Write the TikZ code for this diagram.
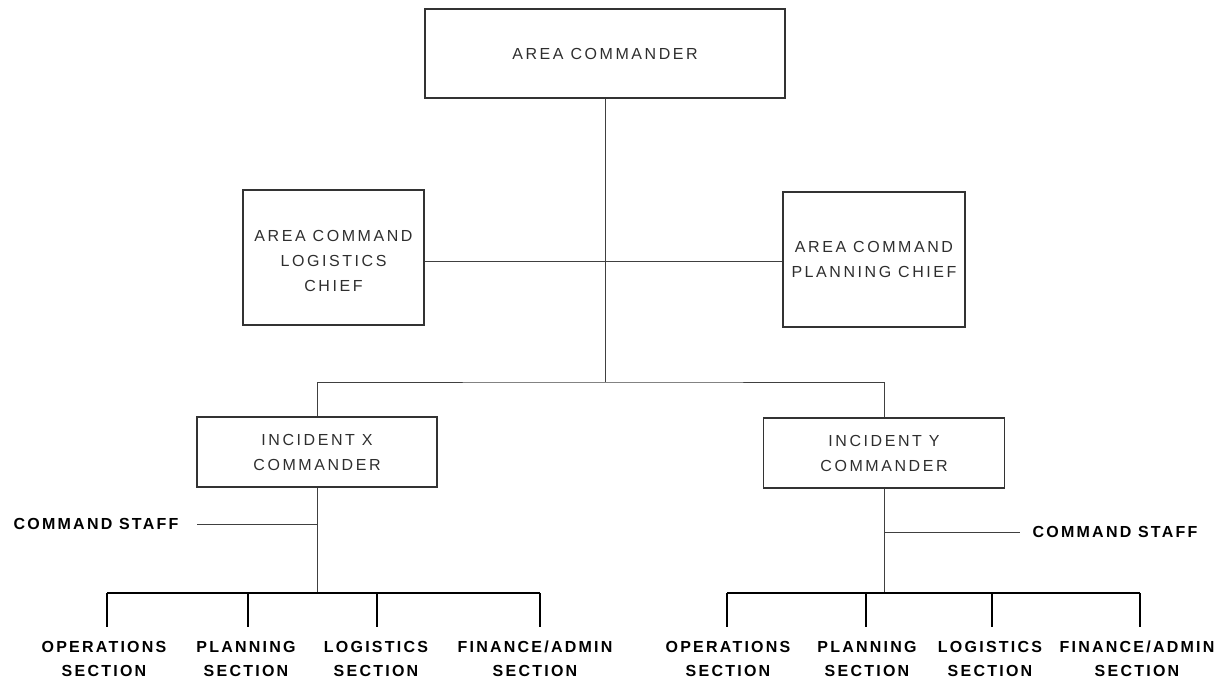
\documentclass[tikz,border=0pt]{standalone}
\usepackage{fontspec}
\setmainfont{Liberation Sans}
\newfontfamily\boxfont[LetterSpace=16]{Liberation Sans}
\newfontfamily\lblfont[LetterSpace=14]{Liberation Sans Bold}
\begin{document}
\begin{tikzpicture}[x=1pt,y=-1pt,
  unitbox/.style={draw=black!80,line width=1.1pt,rectangle,inner sep=0pt,
    align=center,text=black!82,font=\boxfont\fontsize{16}{25}\selectfont},
  boxtext/.style={inner sep=0pt,align=center,text=black!82,
    font=\boxfont\fontsize{16}{25}\selectfont},
  thinline/.style={draw=black!75,line width=0.9pt},
  barline/.style={draw=black,line width=1.6pt},
  droplines/.style={draw=black,line width=1.2pt},
  sectlbl/.style={anchor=north,inner sep=0pt,align=center,
    font=\lblfont\fontsize{16}{24}\selectfont},
  stafflbl/.style={inner sep=0pt,font=\lblfont\fontsize{16}{18}\selectfont}]
\useasboundingbox (0,0) rectangle (1222,680);

% command boxes
\node[unitbox,minimum width=360pt,minimum height=89pt] (ac) at (605,53.5) {AREA COMMANDER};
\node[unitbox,minimum width=181pt,minimum height=135pt] (log) at (333.5,257.5) {};
\node[boxtext] (logtext) at (333.5,261) {AREA COMMAND\\LOGISTICS\\CHIEF};
\node[unitbox,minimum width=182pt,minimum height=135pt] (plan) at (874,259.5) {AREA COMMAND\\PLANNING CHIEF};
\node[unitbox,minimum width=240pt,minimum height=70pt] (ix) at (317,452) {INCIDENT X\\COMMANDER};
\node[unitbox,minimum width=241pt,minimum height=70pt] (iy) at (884,453) {INCIDENT Y\\COMMANDER};

% junctions
\coordinate (jstaff) at (605,261);
\coordinate (jinc) at (605,382);
\coordinate (bx) at (317,593);
\coordinate (by) at (884,593);

% area command connectors
\draw[thinline] (ac.south) -- (jinc);
\draw[thinline] (log.east |- jstaff) -- (plan.west |- jstaff);
\draw[thinline] (ix.north) |- (jinc) -| (iy.north);

% incident X branch
\node[stafflbl] (csx) at (96,524) {COMMAND STAFF};
\coordinate (csxend) at (197,524);
\draw[thinline] (ix.south) -- (bx);
\draw[thinline] (csxend) -- (csxend -| bx);

\node[sectlbl] (ox) at (104,641) {OPERATIONS\\SECTION};
\node[sectlbl] (px) at (246,641) {PLANNING\\SECTION};
\node[sectlbl] (lx) at (376,641) {LOGISTICS\\SECTION};
\node[sectlbl] (fx) at (535,641) {FINANCE/ADMIN\\SECTION};
\coordinate (dox) at (107,627);
\coordinate (dpx) at (248,627);
\coordinate (dlx) at (377,627);
\coordinate (dfx) at (540,627);
\draw[barline] (dox |- bx) -- (dfx |- bx);
\foreach \d in {dox,dpx,dlx,dfx} \draw[droplines] (\d |- bx) -- (\d);

% incident Y branch
\node[stafflbl] (csy) at (1115,532) {COMMAND STAFF};
\coordinate (csyend) at (1020,532);
\draw[thinline] (iy.south) -- (by);
\draw[thinline] (csyend -| by) -- (csyend);

\node[sectlbl] (oy) at (728,641) {OPERATIONS\\SECTION};
\node[sectlbl] (py) at (867,641) {PLANNING\\SECTION};
\node[sectlbl] (ly) at (990,641) {LOGISTICS\\SECTION};
\node[sectlbl] (fy) at (1137,641) {FINANCE/ADMIN\\SECTION};
\coordinate (doy) at (727,627);
\coordinate (dpy) at (866,627);
\coordinate (dly) at (992,627);
\coordinate (dfy) at (1140,627);
\draw[barline] (doy |- by) -- (dfy |- by);
\foreach \d in {doy,dpy,dly,dfy} \draw[droplines] (\d |- by) -- (\d);
\end{tikzpicture}
\end{document}
